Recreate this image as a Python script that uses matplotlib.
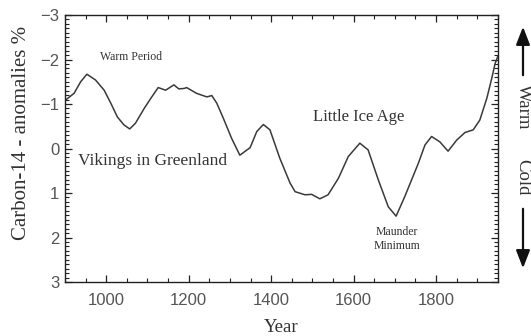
import numpy as np
import matplotlib
matplotlib.use("Agg")
import matplotlib.pyplot as plt
from matplotlib.ticker import MultipleLocator

# values
years = [900, 922, 938, 953, 974, 995, 1011, 1027, 1043, 1057, 1071, 1092, 1109,
         1126, 1144, 1164, 1176, 1189, 1195, 1219, 1244, 1256, 1268, 1284, 1304,
         1324, 1349, 1365, 1381, 1397, 1421, 1446, 1458, 1482, 1498, 1518, 1538,
         1563, 1587, 1615, 1635, 1660, 1684, 1703, 1724, 1757, 1773, 1789, 1809,
         1829, 1850, 1870, 1890, 1906, 1923, 1935, 1943, 1950]
c14 = [-1.08, -1.24, -1.50, -1.67, -1.54, -1.31, -1.02, -0.71, -0.53, -0.44,
       -0.57, -0.90, -1.14, -1.37, -1.31, -1.43, -1.34, -1.35, -1.37, -1.24,
       -1.16, -1.19, -1.02, -0.68, -0.23, 0.15, -0.02, -0.38, -0.54, -0.42,
       0.22, 0.78, 0.97, 1.04, 1.03, 1.13, 1.04, 0.67, 0.18, -0.12, 0.03, 0.71,
       1.31, 1.52, 1.08, 0.33, -0.08, -0.27, -0.15, 0.06, -0.19, -0.36, -0.42,
       -0.64, -1.13, -1.58, -1.91, -2.08]

xticks = [1000, 1200, 1400, 1600, 1800]
yticks = [-3, -2, -1, 0, 1, 2, 3]

serif = "Liberation Serif"
plt.rcParams["font.family"] = ["Liberation Sans", "DejaVu Sans"]

fig = plt.figure(figsize=(5.31, 3.36), dpi=100)
ax = fig.add_axes([0.1224, 0.1607, 0.8154, 0.7946])

ax.plot(years, c14, color="#3a3a3a", linewidth=1.1, solid_joinstyle="round")

ax.set_xlim(900, 1950)
ax.set_ylim(3, -3)
ax.set_xticks(xticks)
ax.set_yticks(yticks)
ax.xaxis.set_minor_locator(MultipleLocator(50))
ax.yaxis.set_minor_locator(MultipleLocator(0.1))
ax.tick_params(which="both", direction="in", top=True, right=True, color="#222")
ax.tick_params(which="major", length=5, width=0.9, labelsize=12, labelcolor="#555555")
ax.tick_params(which="minor", length=3, width=0.8)
ax.tick_params(axis="x", which="major", pad=8)
ax.tick_params(axis="y", which="major", pad=4)
for sp in ax.spines.values():
    sp.set_linewidth(1.0)
    sp.set_color("#222")

ax.text(1060, -2.06, "Warm Period", fontsize=8.5, family=serif, ha="center", va="center", color="#333")
ax.text(1113, 0.28, "Vikings in Greenland", fontsize=12.5, family=serif, ha="center", va="center", color="#333")
ax.text(1613, -0.71, "Little Ice Age", fontsize=12, family=serif, ha="center", va="center", color="#333")
ax.text(1705, 2.03, "Maunder\nMinimum", fontsize=8.5, family=serif, ha="center", va="center",
        color="#333", linespacing=1.2)

fig.text(281 / 531, 1 - 328 / 336, "Year", fontsize=13.5, family=serif, ha="center", va="center", color="#333")
fig.text(22 / 531, 1 - 133 / 336, "Carbon-14 - anomalies %", fontsize=15, family=serif,
         rotation=90, ha="center", va="center", color="#333")

# warm / cold arrows on the right
fig.text(523 / 531, 1 - 107 / 336, "Warm", fontsize=13.5, family=serif, rotation=270,
         ha="center", va="center", color="#333")
fig.text(523 / 531, 1 - 177 / 336, "Cold", fontsize=13.5, family=serif, rotation=270,
         ha="center", va="center", color="#333")
arr = dict(arrowstyle="-|>,head_length=0.9,head_width=0.35", color="#111", lw=1.6, mutation_scale=12)
fig.add_artist(matplotlib.patches.FancyArrowPatch((523 / 531, 1 - 78 / 336), (523 / 531, 1 - 24 / 336),
                                                   transform=fig.transFigure, **arr))
fig.add_artist(matplotlib.patches.FancyArrowPatch((523 / 531, 1 - 206 / 336), (523 / 531, 1 - 271 / 336),
                                                   transform=fig.transFigure, **arr))

fig.savefig("out.png", dpi=100)
